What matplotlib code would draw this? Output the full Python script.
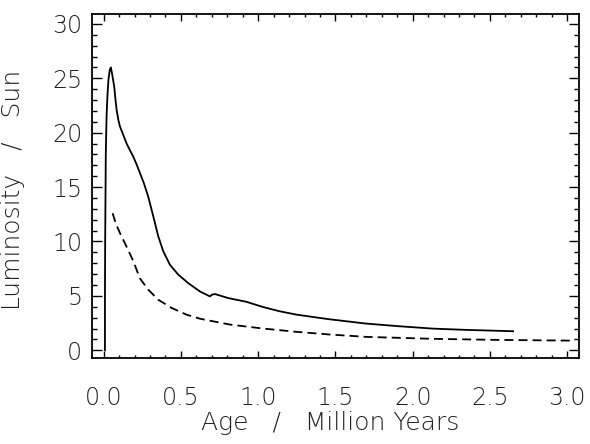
import numpy as np
import matplotlib
matplotlib.use('Agg')
import matplotlib.pyplot as plt
from matplotlib.ticker import MultipleLocator, FormatStrFormatter

# Solid curve (total luminosity)
age_solid = [0.0085, 0.0085, 0.010, 0.014, 0.019, 0.025, 0.032, 0.040, 0.047, 0.055,
             0.062, 0.069, 0.077, 0.084, 0.095, 0.105, 0.127, 0.149, 0.170, 0.192,
             0.213, 0.235, 0.262, 0.289, 0.300, 0.327, 0.353, 0.386, 0.429, 0.483,
             0.547, 0.623, 0.688, 0.700, 0.720, 0.806, 0.925, 1.03, 1.14, 1.25,
             1.46, 1.70, 1.92, 2.13, 2.35, 2.65]
lum_solid = [0.0, 5.0, 10.0, 18.0, 21.5, 23.5, 25.0, 25.8, 26.0, 25.4,
             24.8, 24.2, 23.0, 22.1, 21.2, 20.6, 19.8, 19.0, 18.4, 17.8,
             17.1, 16.3, 15.3, 14.1, 13.5, 12.0, 10.5, 9.1, 7.86, 6.95,
             6.18, 5.41, 4.95, 5.1, 5.17, 4.8, 4.45, 3.98, 3.58, 3.27,
             2.85, 2.45, 2.2, 1.99, 1.87, 1.75]

# Dashed curve
age_dash = [0.058, 0.08, 0.105, 0.159, 0.192, 0.235, 0.289, 0.353, 0.44, 0.537,
            0.623, 0.817, 1.03, 1.25, 1.46, 1.70, 2.13, 2.56, 2.99, 3.05]
lum_dash = [12.6, 11.6, 10.8, 9.2, 8.2, 6.6, 5.57, 4.65, 3.89, 3.27,
            2.9, 2.36, 2.0, 1.69, 1.45, 1.23, 1.05, 0.95, 0.89, 0.88]

plt.rcParams['font.family'] = ['DejaVu Sans']
plt.rcParams['font.weight'] = 'light'
plt.rcParams['axes.labelweight'] = 'light'
txt_color = '#222222'

fig = plt.figure(figsize=(5.9, 4.44), dpi=100)
ax = fig.add_axes([0.156, 0.194, 0.825, 0.774])

ax.plot(age_solid, lum_solid, color='black', linewidth=1.3)
ax.plot(age_dash, lum_dash, color='black', linewidth=1.3, linestyle=(0, (5, 2.8)))

ax.set_xlim(-0.075, 3.075)
ax.set_ylim(-0.7, 30.9)
ax.xaxis.set_major_locator(MultipleLocator(0.5))
ax.xaxis.set_minor_locator(MultipleLocator(0.1))
ax.yaxis.set_major_locator(MultipleLocator(5))
ax.yaxis.set_minor_locator(MultipleLocator(1))
ax.xaxis.set_major_formatter(FormatStrFormatter('%.1f'))

ax.tick_params(which='both', direction='in', top=True, right=True,
               labelsize=17, colors='black', width=1.0, labelcolor=txt_color)
ax.tick_params(axis='x', which='major', length=5, pad=20)
ax.tick_params(axis='x', which='minor', length=2.5)
ax.tick_params(axis='y', which='major', length=7, pad=7)
ax.tick_params(axis='y', which='minor', length=3.5)
for s in ax.spines.values():
    s.set_linewidth(1.3)

ax.set_xlabel('Age   /   Million Years', fontsize=18, color=txt_color,
              fontweight='light', va='top')
ax.xaxis.set_label_coords(0.489, -0.155)
ax.set_ylabel('Luminosity   /   Sun', fontsize=18, color=txt_color,
              fontweight='light')
ax.yaxis.set_label_coords(-0.1376, 0.49)

fig.savefig('out.png', dpi=100)
